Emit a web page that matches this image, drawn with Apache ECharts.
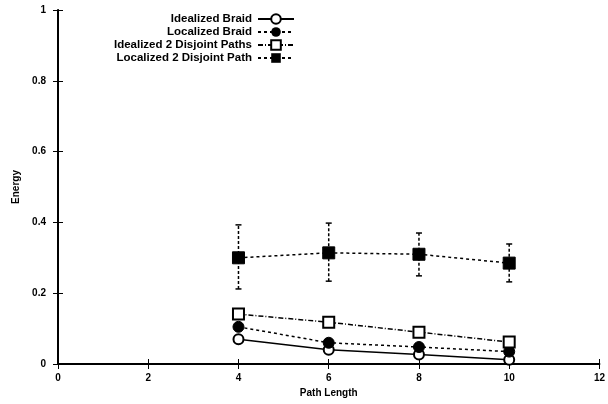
<!DOCTYPE html>
<html>
<head>
<meta charset="utf-8">
<script src="https://cdn.jsdelivr.net/npm/echarts@6/dist/echarts.min.js"></script>
<style>
  html, body { margin: 0; padding: 0; background: #fff; }
  #chart { width: 608px; height: 404px; }
</style>
</head>
<body>
<div id="chart"></div>
<script>
// Energy vs. path length for braided and disjoint multipath routing
const pathLengths = [4, 6, 8, 10];
const idealizedBraid = [0.07, 0.04, 0.027, 0.012];
const localizedBraid = [0.105, 0.06, 0.048, 0.035];
const idealizedDisjoint = [0.141, 0.118, 0.09, 0.062];
const localizedDisjoint = [0.30, 0.314, 0.31, 0.285];
const localizedDisjointLow = [0.212, 0.234, 0.249, 0.232];
const localizedDisjointHigh = [0.393, 0.398, 0.37, 0.339];
const xTicks = [0, 2, 4, 6, 8, 10, 12];
const yTicks = [0, 0.2, 0.4, 0.6, 0.8, 1];

const FONT = '"Liberation Sans", Arial, sans-serif';
const pairs = arr => pathLengths.map((x, i) => [x, arr[i]]);

const chart = echarts.init(document.getElementById('chart'), null, { renderer: 'canvas' });

const axisText = { color: '#000', fontFamily: FONT, fontWeight: 'bold', fontSize: 10 };

const option = {
  animation: false,
  backgroundColor: '#fff',
  grid: { left: 58, right: 8, top: 10, bottom: 40 },
  legend: {
    orient: 'vertical',
    align: 'right',
    right: 313,
    top: 13,
    itemWidth: 36,
    itemHeight: 12,
    itemGap: 1,
    padding: 0,
    textStyle: { color: '#000', fontFamily: FONT, fontWeight: 'bold', fontSize: 11.5, padding: [0, 1, 0, 0] },
    data: ['Idealized Braid', 'Localized Braid', 'Idealized 2 Disjoint Paths', 'Localized 2 Disjoint Path']
  },
  xAxis: [
    {
      type: 'value', min: xTicks[0], max: xTicks[xTicks.length - 1], interval: 2,
      name: 'Path Length', nameLocation: 'middle', nameGap: 22,
      nameTextStyle: axisText,
      axisLine: { lineStyle: { color: '#000', width: 2 } },
      axisTick: { inside: true, length: 5, lineStyle: { color: '#000', width: 1 } },
      axisLabel: Object.assign({ margin: 9 }, axisText),
      splitLine: { show: false }
    },
    {
      type: 'value', position: 'top', min: 0, max: 12, interval: 2,
      axisLine: { lineStyle: { color: '#000', width: 1 } },
      axisTick: { inside: true, length: 5, lineStyle: { color: '#000' } },
      axisLabel: { show: false },
      splitLine: { show: false }
    }
  ],
  yAxis: [
    {
      type: 'value', min: yTicks[0], max: yTicks[yTicks.length - 1], interval: 0.2,
      name: 'Energy', nameLocation: 'middle', nameGap: 36, nameRotate: 90,
      nameTextStyle: axisText,
      axisLine: { lineStyle: { color: '#000', width: 2 } },
      axisTick: { inside: true, length: 5, lineStyle: { color: '#000', width: 1 } },
      axisLabel: Object.assign({ margin: 12, formatter: v => String(+v.toFixed(1)) }, axisText),
      splitLine: { show: false }
    },
    {
      type: 'value', position: 'right', min: 0, max: 1, interval: 0.2,
      axisLine: { lineStyle: { color: '#000', width: 1 } },
      axisTick: { inside: true, length: 5, lineStyle: { color: '#000' } },
      axisLabel: { show: false },
      splitLine: { show: false }
    }
  ],
  series: [
    {
      name: 'Localized 2 Disjoint Path err',
      type: 'custom',
      data: pathLengths.map((x, i) => [x, localizedDisjointLow[i], localizedDisjointHigh[i]]),
      z: 1,
      renderItem: (params, api) => {
        const lo = api.coord([api.value(0), api.value(1)]);
        const hi = api.coord([api.value(0), api.value(2)]);
        const cap = 3;
        const style = { stroke: '#000', lineWidth: 1.5 };
        return {
          type: 'group',
          children: [
            { type: 'line', shape: { x1: lo[0], y1: lo[1], x2: hi[0], y2: hi[1] },
              style: { stroke: '#000', lineWidth: 1.5, lineDash: [3, 2] } },
            { type: 'line', shape: { x1: lo[0] - cap, y1: lo[1], x2: lo[0] + cap, y2: lo[1] }, style },
            { type: 'line', shape: { x1: hi[0] - cap, y1: hi[1], x2: hi[0] + cap, y2: hi[1] }, style }
          ]
        };
      },
      silent: true
    },
    {
      name: 'Idealized Braid', type: 'line', data: pairs(idealizedBraid),
      symbol: 'emptyCircle', symbolSize: 10,
      lineStyle: { color: '#000', width: 1.5, type: 'solid' },
      itemStyle: { color: '#000', borderColor: '#000', borderWidth: 2 },
      z: 3
    },
    {
      name: 'Localized Braid', type: 'line', data: pairs(localizedBraid),
      symbol: 'circle', symbolSize: 11,
      lineStyle: { color: '#000', width: 1.5, type: [3, 3] },
      itemStyle: { color: '#000', borderColor: '#000' },
      z: 3
    },
    {
      name: 'Idealized 2 Disjoint Paths', type: 'line', data: pairs(idealizedDisjoint),
      symbol: 'emptyRect', symbolSize: 11,
      lineStyle: { color: '#000', width: 1.5, type: [5, 2, 1, 2] },
      itemStyle: { color: '#000', borderColor: '#000', borderWidth: 2 },
      z: 3
    },
    {
      name: 'Localized 2 Disjoint Path', type: 'line', data: pairs(localizedDisjoint),
      symbol: 'rect', symbolSize: 12,
      lineStyle: { color: '#000', width: 1.5, type: [3, 3] },
      itemStyle: { color: '#000', borderColor: '#000' },
      z: 3
    }
  ]
};

chart.setOption(option);
</script>
</body>
</html>
